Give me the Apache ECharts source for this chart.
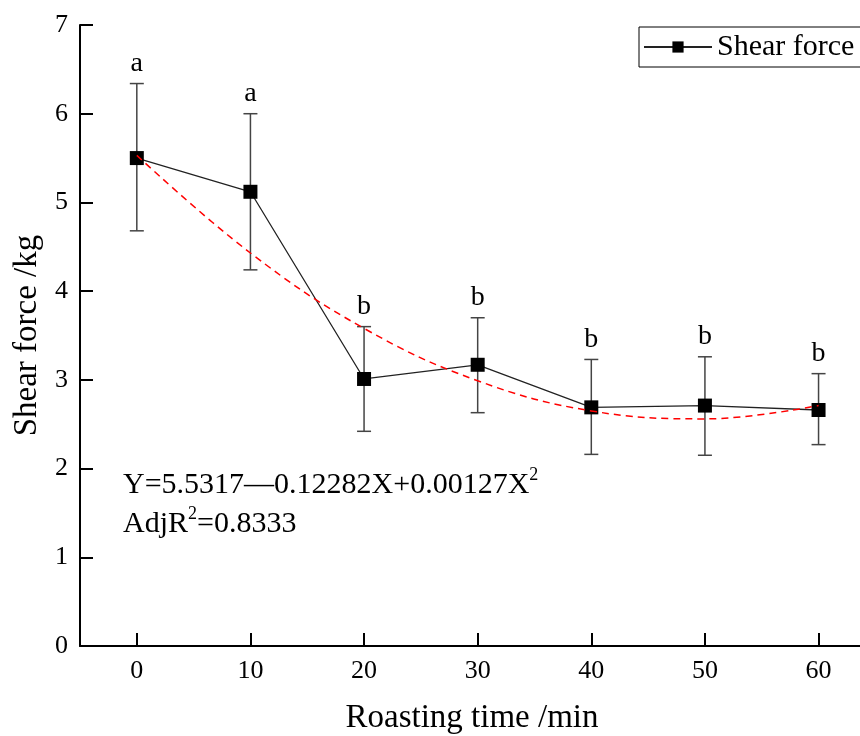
<!DOCTYPE html>
<html>
<head>
<meta charset="utf-8">
<script src="https://cdn.jsdelivr.net/npm/echarts@6/dist/echarts.min.js"></script>
<style>
  html, body { margin: 0; padding: 0; background: #fff; }
  #chart { width: 860px; height: 736px; }
</style>
</head>
<body>
<div id="chart"></div>
<script>
// roasting time (min)
const times = [0, 10, 20, 30, 40, 50, 60];
// mean shear force (kg)
const shearForce = [5.50, 5.12, 3.01, 3.17, 2.69, 2.71, 2.66];
// error bar limits
const errLow = [4.68, 4.24, 2.42, 2.63, 2.16, 2.15, 2.27];
const errHigh = [6.34, 6.00, 3.60, 3.70, 3.23, 3.26, 3.07];
// significance letters
const letters = ['a', 'a', 'b', 'b', 'b', 'b', 'b'];
// fitted quadratic curve
const fitValues = [5.53, 4.43, 3.58, 2.99, 2.65, 2.56, 2.71];
const yTicks = [0, 1, 2, 3, 4, 5, 6, 7];

const font = '"Liberation Serif", "Times New Roman", serif';

const chart = echarts.init(document.getElementById('chart'));

const errData = times.map((t, i) => [t, errLow[i], errHigh[i], letters[i]]);

chart.setOption({
  animation: false,
  grid: { left: 80, right: -4, top: 25, bottom: 90, containLabel: false, outerBoundsMode: 'none' },
  legend: {
    data: ['Shear force'],
    left: 639,
    top: 27,
    padding: [5, 8, 5, 4],
    borderColor: '#000',
    borderWidth: 1,
    borderRadius: 0,
    itemWidth: 68,
    itemHeight: 14,
    textStyle: { fontFamily: font, fontSize: 30, color: '#000' }
  },
  xAxis: {
    type: 'value',
    min: -5,
    max: 64,
    name: 'Roasting time /min',
    nameLocation: 'middle',
    nameGap: 56,
    nameTextStyle: { fontFamily: font, fontSize: 33, color: '#000' },
    axisLine: { onZero: false, lineStyle: { color: '#000', width: 2 } },
    axisTick: { inside: true, length: 13, customValues: times, lineStyle: { color: '#000', width: 2 } },
    axisLabel: {
      fontFamily: font, fontSize: 26, color: '#000', margin: 12,
      customValues: times,
      formatter: v => String(v)
    },
    splitLine: { show: false }
  },
  yAxis: {
    type: 'value',
    min: 0,
    max: 7,
    interval: 1,
    name: 'Shear force /kg',
    nameLocation: 'middle',
    nameGap: 26,
    nameTextStyle: { fontFamily: font, fontSize: 33, color: '#000' },
    axisLine: { show: true, onZero: false, lineStyle: { color: '#000', width: 2 } },
    axisTick: { show: true, inside: true, length: 13, lineStyle: { color: '#000', width: 2 } },
    axisLabel: {
      fontFamily: font, fontSize: 26, color: '#000', margin: 12,
      formatter: v => (yTicks.includes(v) ? String(v) : '')
    },
    splitLine: { show: false }
  },
  series: [
    {
      name: 'errorbars',
      type: 'custom',
      silent: true,
      z: 1,
      data: errData,
      renderItem: function (params, api) {
        const x = api.value(0);
        const lo = api.coord([x, api.value(1)]);
        const hi = api.coord([x, api.value(2)]);
        const half = 7;
        const style = { stroke: '#444', lineWidth: 1.5 };
        return {
          type: 'group',
          children: [
            { type: 'line', shape: { x1: lo[0], y1: lo[1], x2: hi[0], y2: hi[1] }, style: style },
            { type: 'line', shape: { x1: lo[0] - half, y1: lo[1], x2: lo[0] + half, y2: lo[1] }, style: style },
            { type: 'line', shape: { x1: hi[0] - half, y1: hi[1], x2: hi[0] + half, y2: hi[1] }, style: style },
            {
              type: 'text',
              style: {
                text: api.value(3),
                x: hi[0], y: hi[1] - 6,
                align: 'center', verticalAlign: 'bottom',
                font: '28px ' + font, fill: '#000'
              }
            }
          ]
        };
      }
    },
    {
      name: 'Shear force',
      type: 'line',
      z: 3,
      data: times.map((t, i) => [t, shearForce[i]]),
      symbol: 'rect',
      symbolSize: 14,
      itemStyle: { color: '#000' },
      lineStyle: { color: '#222', width: 1.3 }
    },
    {
      name: 'fit',
      type: 'line',
      z: 4,
      silent: true,
      smooth: 0.4,
      symbol: 'none',
      data: times.map((t, i) => [t, fitValues[i]]),
      lineStyle: { color: '#ff0000', width: 1.5, type: [7, 5] }
    }
  ],
  graphic: [
    {
      type: 'text',
      left: 123,
      top: 466,
      style: {
        text: 'Y=5.5317—0.12282X+0.00127X{sup|2}\nAdjR{sup|2}=0.8333',
        font: '30px ' + font,
        fill: '#000',
        lineHeight: 39,
        rich: {
          sup: { fontSize: 18, fontFamily: font, lineHeight: 22, verticalAlign: 'top' }
        }
      }
    }
  ]
});
</script>
</body>
</html>
